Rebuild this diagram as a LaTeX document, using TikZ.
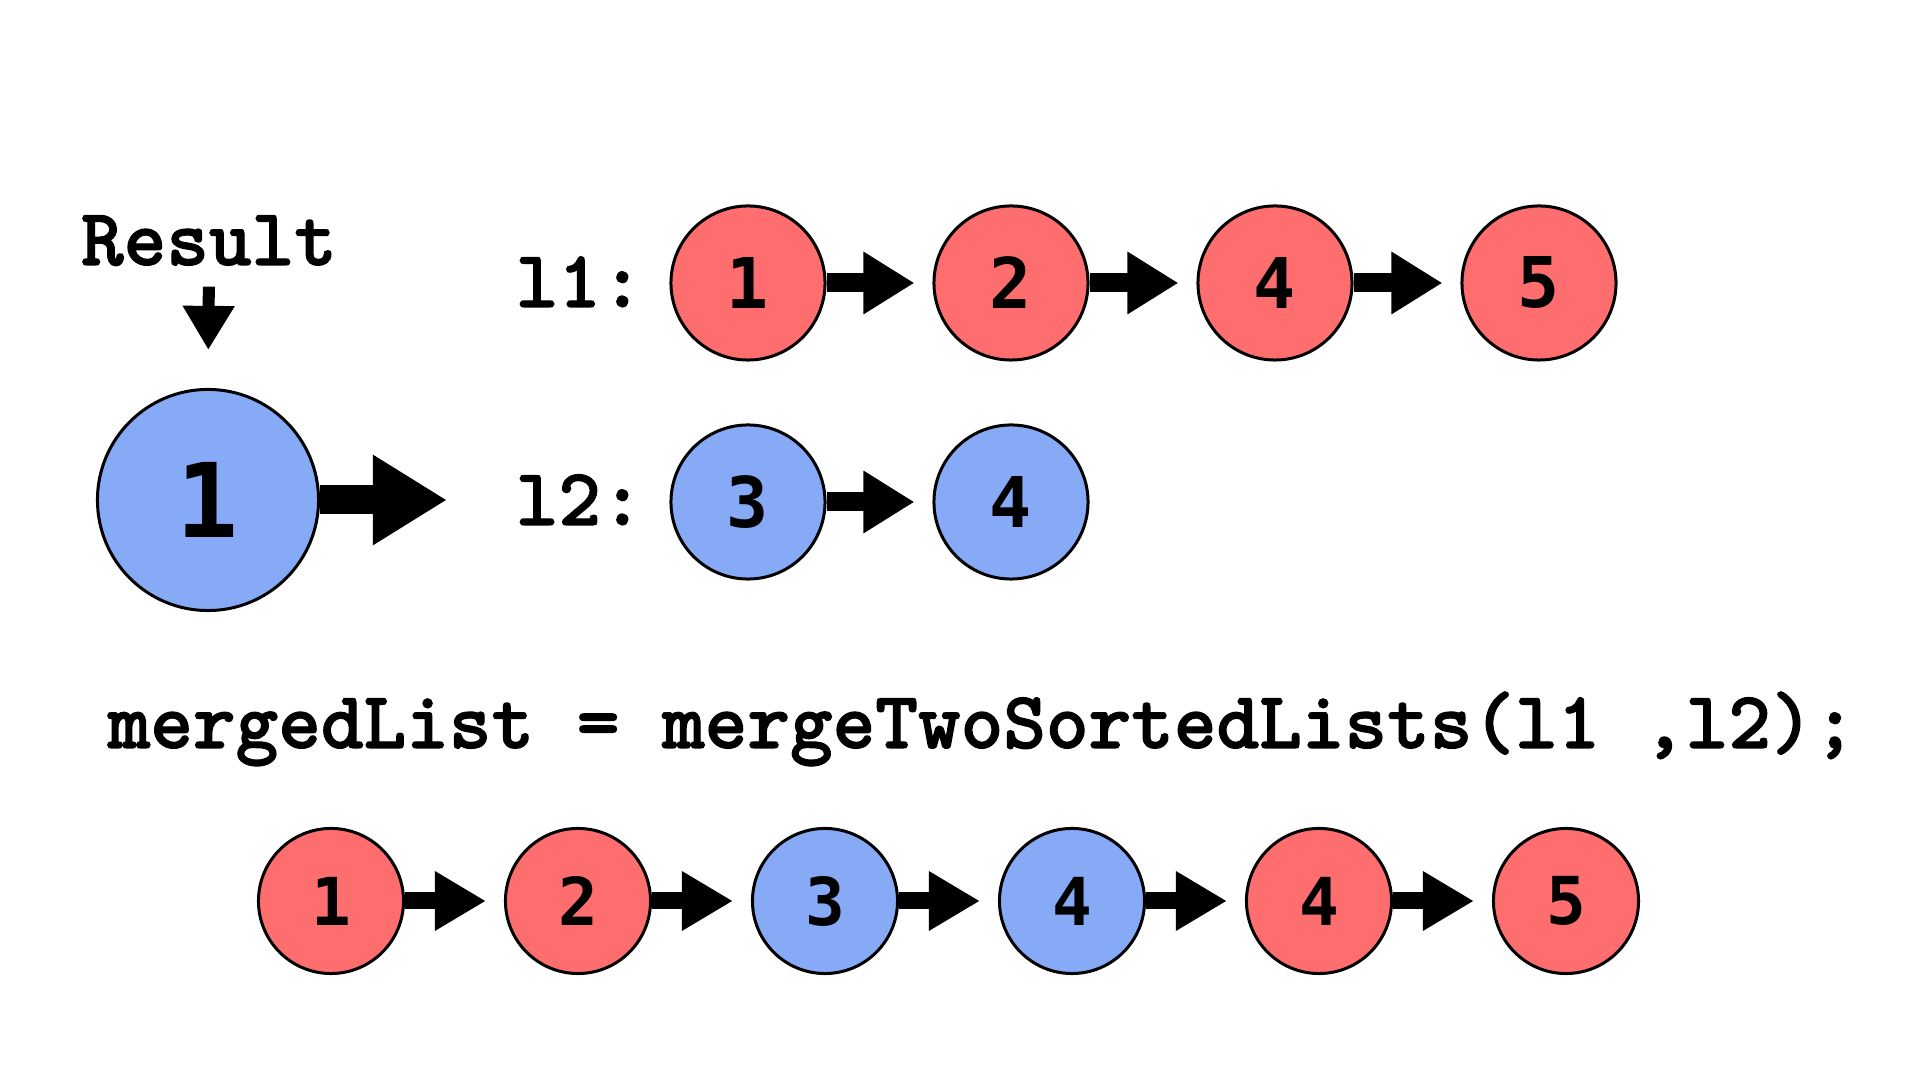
\documentclass[tikz,border=0pt]{standalone}
\usepackage{fontspec}
\newfontfamily\digitfont{DejaVu Sans Mono}
\newfontfamily\codefont{lmmonolt10-bold.otf}[FakeBold=1.4]
\usepackage{xcolor}
\usetikzlibrary{arrows.meta}

\definecolor{listred}{RGB}{255,110,110}
\definecolor{listblue}{RGB}{134,170,246}

\tikzset{
  code/.style={inner sep=0pt,font=\codefont\fontsize{23.1pt}{26pt}\selectfont},
  elem/.style={circle,draw,line width=0.03cm,inner sep=0pt,minimum size=1.54cm,
    font=\digitfont\bfseries\fontsize{19.9pt}{22pt}\selectfont},
  smallelem/.style={elem,minimum size=1.45cm,font=\digitfont\bfseries\fontsize{18.8pt}{22pt}\selectfont},
  bigelem/.style={elem,minimum size=2.21cm,font=\digitfont\bfseries\fontsize{29.3pt}{32pt}\selectfont},
  link/.style={line width=0.19cm,-{Triangle[length=0.51cm,width=0.59cm]},shorten >=0.18cm},
  smalllink/.style={line width=0.17cm,-{Triangle[length=0.51cm,width=0.56cm]},shorten >=0.18cm},
  biglink/.style={line width=0.29cm,-{Triangle[length=0.74cm,width=0.85cm]}},
  pointer/.style={line width=0.12cm,-{Triangle[length=0.44cm,width=0.49cm]},
    shorten <=0.20cm,shorten >=0.38cm}
}

\begin{document}
\begin{tikzpicture}[x=0.01cm,y=-0.01cm]
    \useasboundingbox (0,0) rectangle (1920,1080);
    % result
    \node[code,anchor=base] (result) at (209,265) {Result};
    \node[bigelem,fill=listblue] (res1) at (208,500) {1};
    \coordinate (resnext) at (447,500);
    \draw[pointer] (result.south) -- (res1.north);
    \draw[biglink] (res1.east) -- (resnext);
    % l1
    \node[code,anchor=base west] (l1label) at (515,307) {l1:};
    \node[elem,fill=listred] (a1) at (748,283) {1};
    \node[elem,fill=listred] (a2) at (1011,283) {2};
    \node[elem,fill=listred] (a3) at (1275,283) {4};
    \node[elem,fill=listred] (a4) at (1539,283) {5};
    \draw[link] (a1.east) -- (a2.west);
    \draw[link] (a2.east) -- (a3.west);
    \draw[link] (a3.east) -- (a4.west);
    % l2
    \node[code,anchor=base west] (l2label) at (515,525) {l2:};
    \node[elem,fill=listblue] (b1) at (748,502) {3};
    \node[elem,fill=listblue] (b2) at (1011,502) {4};
    \draw[link] (b1.east) -- (b2.west);
    %
    \node[code,anchor=base west] (call) at (107,748) {mergedList = mergeTwoSortedLists(l1 ,l2);};
    % merged
    \node[smallelem,fill=listred] (m1) at (331,901) {1};
    \node[smallelem,fill=listred] (m2) at (578,901) {2};
    \node[smallelem,fill=listblue] (m3) at (825,901) {3};
    \node[smallelem,fill=listblue] (m4) at (1072,901) {4};
    \node[smallelem,fill=listred] (m5) at (1319,901) {4};
    \node[smallelem,fill=listred] (m6) at (1566,901) {5};
    \draw[smalllink] (m1.east) -- (m2.west);
    \draw[smalllink] (m2.east) -- (m3.west);
    \draw[smalllink] (m3.east) -- (m4.west);
    \draw[smalllink] (m4.east) -- (m5.west);
    \draw[smalllink] (m5.east) -- (m6.west);
\end{tikzpicture}
\end{document}
